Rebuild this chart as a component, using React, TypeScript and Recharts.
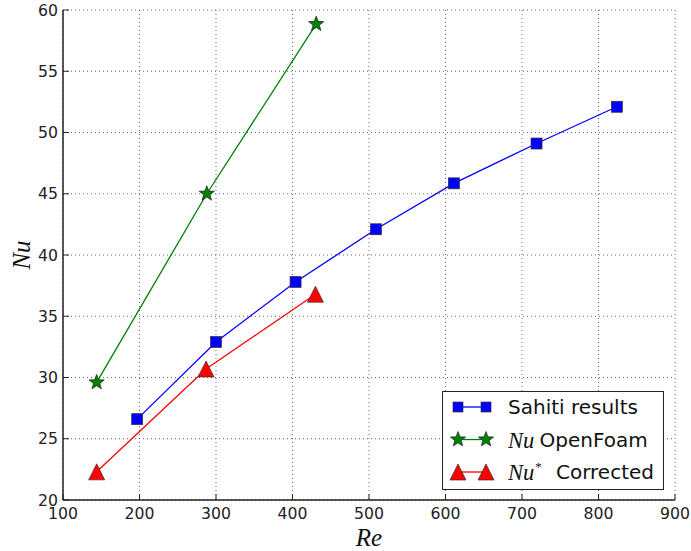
import { CartesianGrid, Legend, Line, LineChart, XAxis, YAxis } from "recharts";

const reTicks = [100, 200, 300, 400, 500, 600, 700, 800, 900];
const nuTicks = [20, 25, 30, 35, 40, 45, 50, 55, 60];

const sahitiRe = [197, 300, 404, 509, 611, 719, 824];
const sahitiNu = [26.6, 32.9, 37.8, 42.1, 45.85, 49.1, 52.1];

const openFoamRe = [144, 288, 431];
const openFoamNu = [29.6, 45.0, 58.85];

const correctedRe = [144, 287, 430];
const correctedNu = [22.3, 30.7, 36.8];

const sahiti = sahitiRe.map((re, i) => ({ re, nu: sahitiNu[i] }));
const openFoam = openFoamRe.map((re, i) => ({ re, nu: openFoamNu[i] }));
const corrected = correctedRe.map((re, i) => ({ re, nu: correctedNu[i] }));

const BLUE = "#0000ff";
const GREEN = "#008000";
const RED = "#ff0000";
const FRAME = "#222";
const SANS = "'DejaVu Sans', sans-serif";
const MATH = "'Liberation Serif', serif";
const TICK_LEN = 6;

function starPath(cx: number, cy: number, r: number) {
  const inner = r * 0.42;
  const pts: string[] = [];
  for (let k = 0; k < 10; k++) {
    const rad = k % 2 === 0 ? r : inner;
    const a = -Math.PI / 2 + (k * Math.PI) / 5;
    pts.push(`${cx + rad * Math.cos(a)},${cy + rad * Math.sin(a)}`);
  }
  return `M${pts.join("L")}Z`;
}

const Square = ({ cx, cy, s = 5.5 }: { cx: number; cy: number; s?: number }) => (
  <rect x={cx - s} y={cy - s} width={2 * s} height={2 * s} fill={BLUE} stroke="#333" strokeWidth={0.7} />
);
const Star = ({ cx, cy }: { cx: number; cy: number }) => (
  <path d={starPath(cx, cy, 8)} fill={GREEN} stroke="#222" strokeWidth={0.7} />
);
const Triangle = ({ cx, cy }: { cx: number; cy: number }) => (
  <path d={`M${cx},${cy - 8}L${cx - 8},${cy + 8}L${cx + 8},${cy + 8}Z`} fill={RED} stroke="#333" strokeWidth={0.7} />
);

// ticks point inwards, labels sit outside
const BottomTick = (p: any) => (
  <g>
    <line x1={p.x} y1={p.y} x2={p.x} y2={p.y - TICK_LEN} stroke={FRAME} />
    <text x={p.x} y={p.y + 13} textAnchor="middle" dominantBaseline="central" fontFamily={SANS} fontSize={15.7} fill="#222">
      {p.payload.value}
    </text>
  </g>
);
const LeftTick = (p: any) => (
  <g>
    <line x1={p.x} y1={p.y} x2={p.x + TICK_LEN} y2={p.y} stroke={FRAME} />
    <text x={p.x - 5} y={p.y} textAnchor="end" dominantBaseline="central" fontFamily={SANS} fontSize={15.7} fill="#222">
      {p.payload.value}
    </text>
  </g>
);
const TopTick = (p: any) => <line x1={p.x} y1={p.y} x2={p.x} y2={p.y + TICK_LEN} stroke={FRAME} />;
const RightTick = (p: any) => <line x1={p.x} y1={p.y} x2={p.x - TICK_LEN} y2={p.y} stroke={FRAME} />;

const legendRows = [
  { marker: "square", color: BLUE, math: "", label: "Sahiti results", labelX: 65 },
  { marker: "star", color: GREEN, math: "Nu", label: "OpenFoam", labelX: 96.5 },
  { marker: "triangle", color: RED, math: "Nu*", label: "Corrected", labelX: 113 },
];

function LegendMarker({ kind, cx, cy }: { kind: string; cx: number; cy: number }) {
  if (kind === "square") return <Square cx={cx} cy={cy} s={5} />;
  if (kind === "star") return <Star cx={cx} cy={cy} />;
  return <Triangle cx={cx} cy={cy} />;
}

function LegendBox() {
  return (
    <div style={{ width: 222, height: 99, boxSizing: "border-box", border: `1.5px solid ${FRAME}`, background: "white" }}>
      <svg width={219} height={96} style={{ display: "block" }}>
        {legendRows.map((row, i) => {
          const y = 15 + i * 32.5;
          return (
            <g key={row.label}>
              <line x1={15} y1={y} x2={43} y2={y} stroke={row.color} strokeWidth={1.3} />
              <LegendMarker kind={row.marker} cx={15} cy={y} />
              <LegendMarker kind={row.marker} cx={43} cy={y} />
              <text x={65} y={y} dominantBaseline="central" fontFamily={SANS} fontSize={20} fill="#111">
                {row.math !== "" && (
                  <tspan fontFamily={MATH} fontStyle="italic" fontSize={22.5}>Nu</tspan>
                )}
                {row.math === "Nu*" && (
                  <tspan fontFamily={MATH} fontSize={13} dx={1} dy={-6}>*</tspan>
                )}
                <tspan x={row.labelX} y={y}>{row.label}</tspan>
              </text>
            </g>
          );
        })}
      </svg>
    </div>
  );
}

export default function App() {
  return (
    <div style={{ position: "absolute", left: 0, top: 0, background: "white" }}>
      <LineChart width={691} height={551} margin={{ top: 10, right: 16, bottom: 0, left: 0 }}>
        <CartesianGrid stroke="#666" strokeDasharray="1 3" horizontalValues={nuTicks} verticalValues={reTicks} />
        <XAxis
          type="number"
          dataKey="re"
          domain={[100, 900]}
          ticks={reTicks}
          allowDataOverflow
          height={51}
          stroke={FRAME}
          strokeWidth={1.5}
          tickSize={0}
          tickMargin={0}
          tick={BottomTick}
          label={{
            content: ({ viewBox }: any) => (
              <text x={viewBox.x + viewBox.width / 2} y={viewBox.y + 37} textAnchor="middle" dominantBaseline="central" fontFamily={MATH} fontStyle="italic" fontSize={25} fill="#111">
                Re
              </text>
            ),
          }}
        />
        <XAxis xAxisId="top" orientation="top" type="number" domain={[100, 900]} ticks={reTicks} allowDataOverflow height={0} stroke={FRAME} strokeWidth={1.5} tickSize={0} tickMargin={0} tick={TopTick} />
        <YAxis
          type="number"
          domain={[20, 60]}
          ticks={nuTicks}
          allowDataOverflow
          width={63}
          stroke={FRAME}
          strokeWidth={1.5}
          tickSize={0}
          tickMargin={0}
          tick={LeftTick}
          label={{
            content: ({ viewBox }: any) => (
              <text x={viewBox.x + 21} y={viewBox.y + viewBox.height / 2} textAnchor="middle" dominantBaseline="central" transform={`rotate(-90 ${viewBox.x + 21} ${viewBox.y + viewBox.height / 2})`} fontFamily={MATH} fontStyle="italic" fontSize={25} fill="#111">
                Nu
              </text>
            ),
          }}
        />
        <YAxis yAxisId="right" orientation="right" type="number" domain={[20, 60]} ticks={nuTicks} allowDataOverflow width={0} stroke={FRAME} strokeWidth={1.5} tickSize={0} tickMargin={0} tick={RightTick} />
        <Line data={sahiti} dataKey="nu" stroke={BLUE} strokeWidth={1.3} isAnimationActive={false} dot={(p: any) => <Square key={p.key} cx={p.cx} cy={p.cy} />} />
        <Line data={openFoam} dataKey="nu" stroke={GREEN} strokeWidth={1.3} isAnimationActive={false} dot={(p: any) => <Star key={p.key} cx={p.cx} cy={p.cy} />} />
        <Line data={corrected} dataKey="nu" stroke={RED} strokeWidth={1.3} isAnimationActive={false} dot={(p: any) => <Triangle key={p.key} cx={p.cx} cy={p.cy} />} />
        <Legend layout="vertical" verticalAlign="middle" align="center" wrapperStyle={{ left: 442, top: 391, width: 222 }} content={() => <LegendBox />} />
      </LineChart>
    </div>
  );
}
